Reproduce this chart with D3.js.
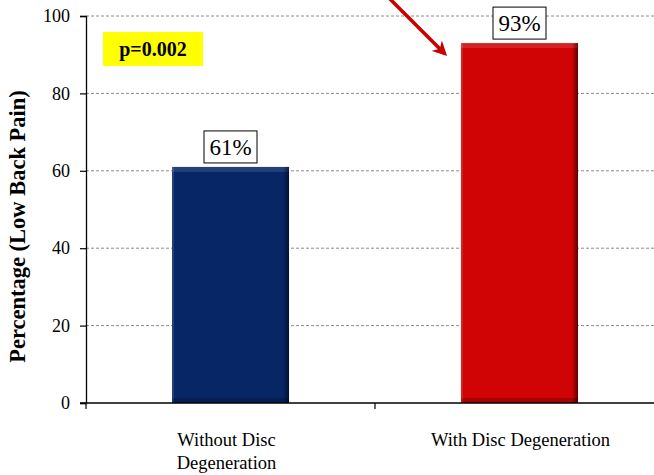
<!DOCTYPE html>
<html>
<head>
<meta charset="utf-8">
<script src="https://cdn.jsdelivr.net/npm/d3@7"></script>
<style>
  html, body { margin: 0; padding: 0; background: #fff; }
  svg { display: block; }
  svg text { font-family: "Liberation Serif", "Times New Roman", Times, "DejaVu Serif", serif; }
</style>
</head>
<body>
<svg id="chart" width="654" height="475"></svg>
<script>
// Low back pain prevalence by disc degeneration status
const categories = [["Without Disc", "Degeneration"], ["With Disc Degeneration"]];
const values = [61, 93];
const barColors = ["#072666", "#d00404"];
const yTicks = [0, 20, 40, 60, 80, 100];
const pValueText = "p=0.002";
const yTitle = "Percentage (Low Back Pain)";

const svg = d3.select("#chart");
const W = 654, H = 475;
const plot = { left: 86, right: 664, top: 16, bottom: 403 };
const serif = '"Liberation Serif", "Times New Roman", Times, serif';

const x = d3.scaleBand()
  .domain(d3.range(values.length))
  .range([plot.left, plot.right])
  .paddingInner(0)
  .paddingOuter(0);

const y = d3.scaleLinear().domain([0, 100]).range([plot.bottom, plot.top]);

// gradient / bevel definitions
const defs = svg.append("defs");
barColors.forEach((c, i) => {
  const g = defs.append("linearGradient").attr("id", "bevelR" + i)
    .attr("x1", 0).attr("x2", 1).attr("y1", 0).attr("y2", 0);
  g.append("stop").attr("offset", "0").attr("stop-color", "#000").attr("stop-opacity", 0);
  g.append("stop").attr("offset", "1").attr("stop-color", "#000").attr("stop-opacity", 0.55);
});
const arrowMarker = defs.append("marker")
  .attr("id", "arrowhead")
  .attr("viewBox", "0 0 10 10")
  .attr("refX", 8).attr("refY", 5)
  .attr("markerWidth", 4.2).attr("markerHeight", 4.2)
  .attr("orient", "auto");
arrowMarker.append("path").attr("d", "M0,0 L10,5 L0,10 L3,5 Z").attr("fill", "#c80000");

// horizontal dashed gridlines
svg.append("g").selectAll("line")
  .data(yTicks.filter(d => d > 0))
  .join("line")
  .attr("x1", plot.left).attr("x2", W)
  .attr("y1", d => y(d)).attr("y2", d => y(d))
  .attr("stroke", "#8c8c8c")
  .attr("stroke-width", 1)
  .attr("stroke-dasharray", "3,2");

// bars
const barW = x.bandwidth() * 0.405;
const bars = svg.append("g").selectAll("g")
  .data(values)
  .join("g")
  .attr("transform", (d, i) => `translate(${x(i) + (x.bandwidth() - barW) / 2},0)`);

bars.append("rect")
  .attr("x", 0).attr("width", barW)
  .attr("y", d => y(d)).attr("height", d => plot.bottom - y(d))
  .attr("fill", (d, i) => barColors[i]);
// top highlight strip
bars.append("rect")
  .attr("x", 0).attr("width", barW)
  .attr("y", d => y(d)).attr("height", 5)
  .attr("fill", "#fff").attr("fill-opacity", 0.12);
// right-side shade
bars.append("rect")
  .attr("x", barW - 6).attr("width", 6)
  .attr("y", d => y(d)).attr("height", d => plot.bottom - y(d))
  .attr("fill", (d, i) => `url(#bevelR${i})`);
// left light edge
bars.append("rect")
  .attr("x", 0).attr("width", 2)
  .attr("y", d => y(d)).attr("height", d => plot.bottom - y(d))
  .attr("fill", "#fff").attr("fill-opacity", 0.12);
// bottom dark strip
bars.append("rect")
  .attr("x", 0).attr("width", barW)
  .attr("y", plot.bottom - 5).attr("height", 5)
  .attr("fill", "#000").attr("fill-opacity", 0.2);

// value labels in boxes
const labels = svg.append("g").selectAll("g")
  .data(values)
  .join("g")
  .attr("transform", (d, i) => `translate(${x(i) + x.bandwidth() / 2},${y(d) - 4})`);
labels.append("rect")
  .attr("x", -26.5).attr("y", -32).attr("width", 53).attr("height", 32)
  .attr("fill", "#fff").attr("stroke", "#000").attr("stroke-width", 1);
labels.append("text")
  .attr("x", 0).attr("y", -8)
  .attr("text-anchor", "middle")
  .style("font-family", serif).attr("font-size", 23)
  .attr("fill", "#000")
  .text(d => d + "%");

// y axis
const yAxis = svg.append("g")
  .attr("transform", `translate(${plot.left},0)`)
  .call(d3.axisLeft(y).tickValues(yTicks).tickSize(6).tickPadding(10));
yAxis.attr("font-family", null);
yAxis.select(".domain").attr("stroke", "#000").attr("stroke-width", 1.3);
yAxis.selectAll(".tick line").attr("stroke", "#000").attr("stroke-width", 1.2);
yAxis.selectAll("text")
  .style("font-family", serif).attr("font-size", 18).attr("fill", "#000");

// x axis line with category separators
svg.append("line")
  .attr("x1", plot.left - 6).attr("x2", W)
  .attr("y1", plot.bottom).attr("y2", plot.bottom)
  .attr("stroke", "#000").attr("stroke-width", 1.3);
svg.append("g").selectAll("line")
  .data(d3.range(values.length + 1).map(i => plot.left + i * x.step()).filter(v => v <= W))
  .join("line")
  .attr("x1", d => d).attr("x2", d => d)
  .attr("y1", plot.bottom).attr("y2", plot.bottom + 6)
  .attr("stroke", "#000").attr("stroke-width", 1.2);

// category labels
const cat = svg.append("g").selectAll("text")
  .data(categories)
  .join("text")
  .attr("text-anchor", "middle")
  .style("font-family", serif).attr("font-size", 18.5)
  .attr("fill", "#000")
  .attr("transform", (d, i) => `translate(${x(i) + x.bandwidth() / 2 - (d.length > 1 ? 4 : -1)},446)`);
cat.selectAll("tspan")
  .data(d => d)
  .join("tspan")
  .attr("x", 0)
  .attr("dy", (d, j) => j === 0 ? 0 : 23)
  .text(d => d);

// y axis title
svg.append("text")
  .attr("transform", `translate(25,${(plot.top + plot.bottom) / 2 + 17}) rotate(-90)`)
  .attr("text-anchor", "middle")
  .style("font-family", serif).attr("font-size", 22.5).attr("font-weight", "bold")
  .attr("fill", "#000")
  .text(yTitle);

// p-value badge
svg.append("rect")
  .attr("x", 103).attr("y", 32).attr("width", 100).attr("height", 34)
  .attr("fill", "#ffff00");
svg.append("text")
  .attr("x", 153).attr("y", 56)
  .attr("text-anchor", "middle")
  .style("font-family", serif).attr("font-size", 20).attr("font-weight", "bold")
  .attr("fill", "#000")
  .text(pValueText);

// pointer arrow to the degeneration bar
svg.append("line")
  .attr("x1", 385).attr("y1", -6)
  .attr("x2", 445).attr("y2", 54)
  .attr("stroke", "#c80000").attr("stroke-width", 3.5)
  .attr("marker-end", "url(#arrowhead)");
</script>
</body>
</html>
